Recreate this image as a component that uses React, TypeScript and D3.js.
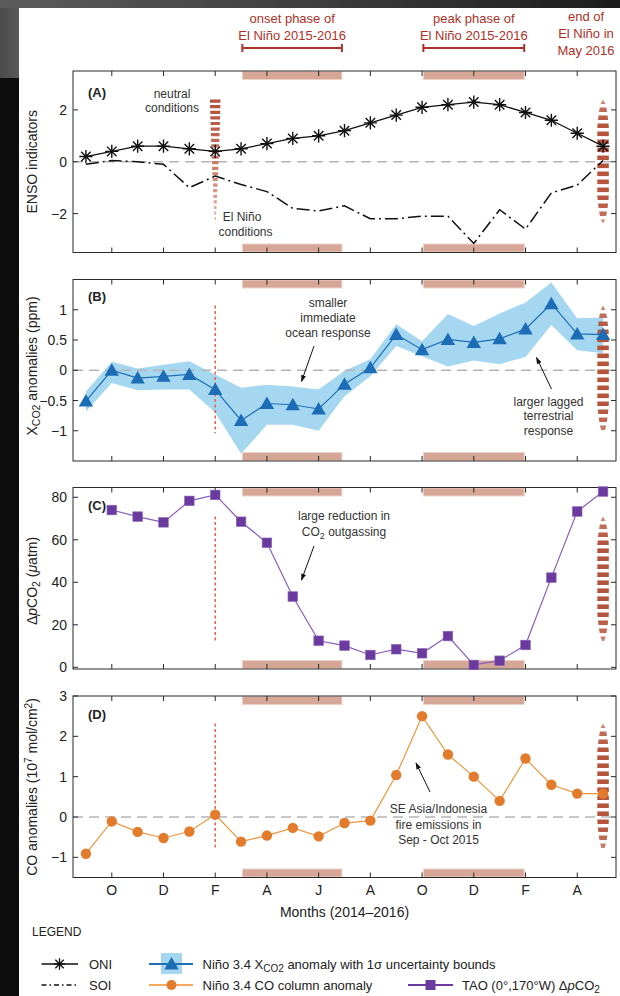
import React from 'react';
import * as d3 from 'd3';

// ---------- data ----------
const monthIdx = d3.range(21); // Sep 2014 .. May 2016
const tickIdx = [1, 3, 5, 7, 9, 11, 13, 15, 17, 19];
const tickLabels = ['O', 'D', 'F', 'A', 'J', 'A', 'O', 'D', 'F', 'A'];

const oni = [0.2, 0.4, 0.6, 0.6, 0.5, 0.4, 0.5, 0.7, 0.9, 1.0, 1.2, 1.5, 1.8, 2.1, 2.2, 2.3, 2.2, 1.9, 1.6, 1.1, 0.6];
const soi = [-0.1, 0.05, 0.0, -0.1, -1.0, -0.55, -0.88, -1.15, -1.8, -1.9, -1.7, -2.2, -2.2, -2.1, -2.1, -3.15, -1.85, -2.6, -1.2, -0.9, 0.05];

const xco2 = [-0.51, 0.0, -0.13, -0.1, -0.07, -0.32, -0.83, -0.55, -0.57, -0.64, -0.23, 0.04, 0.59, 0.34, 0.51, 0.46, 0.52, 0.68, 1.1, 0.6, 0.59];
const xco2Upper = [-0.35, 0.14, 0.03, 0.09, 0.15, -0.07, -0.29, -0.24, -0.27, -0.32, -0.01, 0.18, 0.76, 0.48, 0.93, 0.73, 0.94, 1.12, 1.45, 0.86, 0.87];
const xco2Lower = [-0.68, -0.21, -0.33, -0.32, -0.32, -0.7, -1.38, -0.9, -0.9, -1.0, -0.43, -0.1, 0.4, 0.23, 0.06, 0.16, 0.1, 0.22, 0.75, 0.33, 0.28];

const dpco2: (number | null)[] = [null, 74.0, 70.9, 68.2, 78.3, 81.1, 68.5, 58.6, 33.3, 12.5, 10.2, 5.8, 8.5, 6.6, 14.7, 1.1, 3.1, 10.5, 42.2, 73.3, 82.7];

const co = [-0.91, -0.11, -0.37, -0.52, -0.36, 0.06, -0.61, -0.46, -0.27, -0.48, -0.15, -0.09, 1.04, 2.5, 1.55, 1.0, 0.4, 1.45, 0.8, 0.58, 0.58];

const onsetPhase = [6.05, 9.9];
const peakPhase = [13.05, 16.95];
const fMonth = 5;
const endMonth = 20;

const yTicksA = [-2, 0, 2];
const yTicksB = [-1, -0.5, 0, 0.5, 1];
const yTicksC = [0, 20, 40, 60, 80];
const yTicksD = [-1, 0, 1, 2, 3];

// ---------- layout ----------
const W = 620, H = 996;
const L = 73, R = 616;
const PH = 181.5;
const FONT = "'Liberation Sans', Arial, Helvetica, sans-serif";

const BAR_FILL = '#d6a797';
const BAR_STROKE = '#ecd3c9';
const RED = '#ad3128';
const SPINDLE = '#b5533b';

const fmt = (v: number) => (v < 0 ? '\u2212' + Math.abs(v) : String(v));

function starPath(cx: number, cy: number, r: number) {
  const d = r * 0.72;
  return `M${cx - r},${cy}H${cx + r}M${cx},${cy - r}V${cy + r}M${cx - d},${cy - d}L${cx + d},${cy + d}M${cx - d},${cy + d}L${cx + d},${cy - d}`;
}
function triPath(cx: number, cy: number) {
  return `M${cx},${cy - 7}L${cx + 7.2},${cy + 5.5}L${cx - 7.2},${cy + 5.5}Z`;
}

// striped spindle (lens) or tapered stripes
function Stripes({ cx, y0, y1, maxW, period, dash, kind }: any) {
  const len = y1 - y0;
  const prof = (t: number) => {
    t = Math.max(0, Math.min(1, t));
    if (kind === 'lens') return maxW * Math.min(1, 1.25 * Math.sqrt(Math.sin(Math.PI * t)));
    return maxW * (1 - 0.9 * Math.pow(t, 1.3));
  };
  const col = d3.interpolateRgb('#b4533c', '#ebbcae');
  const n = Math.floor(len / period) + 1;
  const polys = [];
  for (let k = 0; k < n; k++) {
    const a = y0 + k * period;
    const b = Math.min(a + dash, y1);
    if (b <= a) continue;
    const ta = (a - y0) / len, tb = (b - y0) / len;
    const wa = prof(ta) / 2, wb = prof(tb) / 2;
    const fill = kind === 'lens' ? SPINDLE : col(Math.pow((ta + tb) / 2, 1.4));
    const op = kind === 'lens' ? 0.6 + 0.4 * Math.min(1, (wa + wb) / maxW) : 1;
    polys.push(
      <path key={k} d={`M${cx - wa},${a}L${cx + wa},${a}L${cx + wb},${b}L${cx - wb},${b}Z`} fill={fill} opacity={op} />
    );
  }
  return <g>{polys}</g>;
}

export default function App() {
  const x = d3.scaleLinear().domain([-0.5, 20.5]).range([L, R]);
  const tops = [71, 279.5, 487.5, 696];
  const domains = [[-3.5, 3.5], [-1.5, 1.5], [-0.8, 84.6], [-1.5, 3]];
  const yTicks = [yTicksA, yTicksB, yTicksC, yTicksD];
  const ys = tops.map((t, i) => d3.scaleLinear().domain(domains[i]).range([t + PH, t]));
  // vertical extent of F line / end spindle in data units per panel
  const markSpan = [[2.4, -2.38], [1.07, -1.04], [71, 12], [2.32, -0.82]];

  const lineGen = (y: any) =>
    d3.line<number | null>().defined((d) => d !== null).x((_, i) => x(i)).y((d) => y(d as number));

  const frame = (i: number) => {
    const t = tops[i], b = t + PH, y = ys[i];
    return (
      <g key={'f' + i}>
        <rect x={L} y={t} width={R - L} height={PH} fill="none" stroke="#2a2a2a" strokeWidth={1} />
        {tickIdx.map((m) => (
          <g key={m}>
            <line x1={x(m)} x2={x(m)} y1={b} y2={b - 5} stroke="#2a2a2a" />
            <line x1={x(m)} x2={x(m)} y1={t} y2={t + 5} stroke="#2a2a2a" />
          </g>
        ))}
        {yTicks[i].map((v) => (
          <g key={v}>
            <line x1={L} x2={L + 5} y1={y(v)} y2={y(v)} stroke="#2a2a2a" />
            <line x1={R} x2={R - 5} y1={y(v)} y2={y(v)} stroke="#2a2a2a" />
            <text x={67} y={y(v) + 5} textAnchor="end" fontSize={14} fill="#222">{fmt(v)}</text>
          </g>
        ))}
      </g>
    );
  };

  const bars = (i: number) => {
    const t = tops[i], b = t + PH;
    return (
      <g key={'b' + i}>
        {[onsetPhase, peakPhase].map((p, k) => (
          <g key={k}>
            <rect x={x(p[0])} y={t + 0.5} width={x(p[1]) - x(p[0])} height={8} fill={BAR_FILL} stroke={BAR_STROKE} strokeWidth={1} />
            <rect x={x(p[0])} y={b - 8.5} width={x(p[1]) - x(p[0])} height={8} fill={BAR_FILL} stroke={BAR_STROKE} strokeWidth={1} />
          </g>
        ))}
      </g>
    );
  };

  const zeroLine = (i: number) => (
    <line x1={L} x2={R} y1={ys[i](0)} y2={ys[i](0)} stroke="#b5b5b5" strokeWidth={1.6} strokeDasharray="10,6" />
  );

  const fLine = (i: number) => (
    <line x1={x(fMonth)} x2={x(fMonth)} y1={ys[i](markSpan[i][0])} y2={ys[i](markSpan[i][1])}
      stroke="#e06a5a" strokeWidth={1.6} strokeDasharray="3,2.5" />
  );

  const endSpindle = (i: number) => (
    <Stripes cx={x(endMonth)} y0={ys[i](markSpan[i][0])} y1={ys[i](markSpan[i][1])} maxW={11.5} period={8} dash={4.6} kind="lens" />
  );

  const yA = ys[0], yB = ys[1], yC = ys[2], yD = ys[3];

  const bandArea = d3.area<number>().x((_, i) => x(i)).y0((_, i) => yB(xco2Lower[i])).y1((_, i) => yB(xco2Upper[i]));

  const arrow = (x1: number, y1: number, x2: number, y2: number) => (
    <line x1={x1} y1={y1} x2={x2} y2={y2} stroke="#111" strokeWidth={1} markerEnd="url(#arr)" />
  );

  return (
    <svg width={W} height={H} style={{ position: 'absolute', left: 0, top: 0, fontFamily: FONT }}>
      <defs>
        <marker id="arr" viewBox="0 0 10 10" refX={9} refY={5} markerWidth={7} markerHeight={7} markerUnits="userSpaceOnUse" orient="auto">
          <path d="M0,1.5L10,5L0,8.5Z" fill="#111" />
        </marker>
        <linearGradient id="topg" x1="0" x2="1" y1="0" y2="0">
          <stop offset="0" stopColor="#5c5c5c" />
          <stop offset="0.5" stopColor="#3e3e3e" />
          <stop offset="1" stopColor="#1c1c1c" />
        </linearGradient>
        <linearGradient id="leftg" x1="0" x2="1" y1="0" y2="0">
          <stop offset="0" stopColor="#4a4a4a" />
          <stop offset="1" stopColor="#5a5a5a" />
        </linearGradient>
      </defs>
      <rect x={0} y={0} width={W} height={H} fill="#fff" />
      <rect x={0} y={0} width={19} height={H} fill="#0c0c0c" />
      <rect x={0} y={0} width={19} height={78} fill="url(#leftg)" />
      <rect x={0} y={0} width={W} height={8} fill="url(#topg)" />

      {/* header */}
      <g fill={RED} fontSize={13} textAnchor="middle">
        <text x={(x(onsetPhase[0]) + x(onsetPhase[1])) / 2} y={23}>onset phase of</text>
        <text x={(x(onsetPhase[0]) + x(onsetPhase[1])) / 2} y={40}>El Niño 2015-2016</text>
        <text x={(x(peakPhase[0]) + x(peakPhase[1])) / 2} y={23}>peak phase of</text>
        <text x={(x(peakPhase[0]) + x(peakPhase[1])) / 2} y={40}>El Niño 2015-2016</text>
        <text x={586} y={21}>end of</text>
        <text x={586} y={38}>El Niño in</text>
        <text x={586} y={55}>May 2016</text>
      </g>
      {[onsetPhase, peakPhase].map((p, k) => (
        <g key={k} stroke={RED} strokeWidth={2}>
          <line x1={x(p[0])} x2={x(p[1])} y1={48} y2={48} />
          <line x1={x(p[0])} x2={x(p[0])} y1={44} y2={52} />
          <line x1={x(p[1])} x2={x(p[1])} y1={44} y2={52} />
        </g>
      ))}

      {/* ---------- Panel A ---------- */}
      {bars(0)}
      {zeroLine(0)}
      <Stripes cx={x(fMonth)} y0={yA(markSpan[0][0])} y1={yA(markSpan[0][1])} maxW={10.5} period={5.6} dash={3.2} kind="taper" />
      {endSpindle(0)}
      {frame(0)}
      <path d={lineGen(yA)(soi) || ''} fill="none" stroke="#111" strokeWidth={1.5} strokeDasharray="13,4,2,4" />
      <path d={lineGen(yA)(oni) || ''} fill="none" stroke="#111" strokeWidth={1.3} />
      {oni.map((v, i) => (
        <path key={i} d={starPath(x(i), yA(v), 6.6)} stroke="#111" strokeWidth={1.4} fill="none" />
      ))}
      <text x={88} y={97} fontSize={13} fontWeight="bold" fill="#222">(A)</text>
      <g fontSize={12} fill="#333" textAnchor="middle">
        <text x={172} y={97.5}>neutral</text>
        <text x={172} y={111.5}>conditions</text>
        <text x={242} y={220.5}>El Niño</text>
        <text x={245.5} y={235.5}>conditions</text>
      </g>

      {/* ---------- Panel B ---------- */}
      {bars(1)}
      <path d={bandArea(monthIdx) || ''} fill="#a5d8f0" />
      {zeroLine(1)}
      {fLine(1)}
      {endSpindle(1)}
      {frame(1)}
      <path d={lineGen(yB)(xco2) || ''} fill="none" stroke="#1f6fb6" strokeWidth={1.2} />
      {xco2.map((v, i) => (
        <path key={i} d={triPath(x(i), yB(v))} fill="#1c6db5" />
      ))}
      <text x={88} y={300.5} fontSize={13} fontWeight="bold" fill="#222">(B)</text>
      <g fontSize={12} fill="#333" textAnchor="middle">
        <text x={328} y={306.5}>smaller</text>
        <text x={328} y={322}>immediate</text>
        <text x={328} y={337}>ocean response</text>
        <text x={548.5} y={405.5}>larger lagged</text>
        <text x={548.5} y={420}>terrestrial</text>
        <text x={548.5} y={434.5}>response</text>
      </g>
      {arrow(314, 346, 301.5, 381.5)}
      {arrow(551.5, 389, 536.5, 357.5)}

      {/* ---------- Panel C ---------- */}
      {bars(2)}
      {fLine(2)}
      {endSpindle(2)}
      {frame(2)}
      <path d={lineGen(yC)(dpco2) || ''} fill="none" stroke="#8a5cbb" strokeWidth={1.2} />
      {dpco2.map((v, i) =>
        v === null ? null : (
          <rect key={i} x={x(i) - 4.8} y={yC(v) - 4.8} width={9.6} height={9.6} fill="#6b3a9f" stroke="#8b68b8" strokeWidth={0.6} />
        )
      )}
      <text x={88} y={509.5} fontSize={13} fontWeight="bold" fill="#222">(C)</text>
      <g fontSize={12} fill="#333" textAnchor="middle">
        <text x={344} y={520}>large reduction in</text>
        <text x={344} y={536}>
          CO<tspan fontSize={9} dy={3}>2</tspan><tspan dy={-3}> outgassing</tspan>
        </text>
      </g>
      {arrow(314, 546, 301.5, 580)}

      {/* ---------- Panel D ---------- */}
      {bars(3)}
      {zeroLine(3)}
      {fLine(3)}
      {endSpindle(3)}
      {frame(3)}
      <path d={lineGen(yD)(co) || ''} fill="none" stroke="#f0953c" strokeWidth={1.2} />
      {co.map((v, i) => (
        <circle key={i} cx={x(i)} cy={yD(v)} r={5.2} fill="#e27b2c" />
      ))}
      <text x={88} y={719} fontSize={13} fontWeight="bold" fill="#222">(D)</text>
      <g fontSize={12} fill="#333" textAnchor="middle">
        <text x={438.5} y={813}>SE Asia/Indonesia</text>
        <text x={438.5} y={829}>fire emissions in</text>
        <text x={438.5} y={843.5}>Sep - Oct 2015</text>
      </g>
      {arrow(430, 792, 416, 763)}

      {/* month labels */}
      {tickIdx.map((m, k) => (
        <text key={m} x={x(m)} y={895} textAnchor="middle" fontSize={14} fill="#222">{tickLabels[k]}</text>
      ))}
      <text x={(L + R) / 2} y={916.5} textAnchor="middle" fontSize={14} fill="#222">Months (2014–2016)</text>

      {/* y axis titles */}
      <g fontSize={14} fill="#222" textAnchor="middle">
        <text transform={`translate(36.5,${(tops[0] + PH / 2).toFixed(1)}) rotate(-90)`}>ENSO indicators</text>
        <text transform="translate(36.5,366) rotate(-90)">
          X<tspan fontSize={10.5} dy={3}>CO2</tspan><tspan dy={-3}> anomalies (ppm)</tspan>
        </text>
        <text transform="translate(36.5,581) rotate(-90)">
          Δ<tspan fontStyle="italic">p</tspan>CO<tspan fontSize={10.5} dy={3}>2</tspan><tspan dy={-3}> (</tspan><tspan fontStyle="italic">μ</tspan>atm)
        </text>
        <text transform="translate(36.5,787) rotate(-90)">
          CO anomalies (10<tspan fontSize={10} dy={-5}>7</tspan><tspan dy={5}> mol/cm</tspan><tspan fontSize={10} dy={-5}>2</tspan><tspan dy={5}>)</tspan>
        </text>
      </g>

      {/* legend */}
      <text x={32} y={936} fontSize={12} fill="#222">LEGEND</text>
      <line x1={41.5} x2={78} y1={964} y2={964} stroke="#111" strokeWidth={1.3} />
      <path d={starPath(59.5, 964, 5.8)} stroke="#111" strokeWidth={1.3} />
      <text x={89} y={968.5} fontSize={13} fill="#222">ONI</text>
      <line x1={41.5} x2={78} y1={985} y2={985} stroke="#111" strokeWidth={1.3} strokeDasharray="5,3,1.5,3" />
      <text x={89} y={989.5} fontSize={13} fill="#222">SOI</text>

      <rect x={161} y={953} width={21} height={21} fill="#a5d8f0" />
      <line x1={149} x2={193} y1={964} y2={964} stroke="#1f6fb6" strokeWidth={2} />
      <path d={triPath(171.5, 964)} fill="#1c6db5" />
      <text x={202.5} y={968.5} fontSize={13} fill="#222">
        Niño 3.4 X<tspan fontSize={10} dy={3}>CO2</tspan><tspan dy={-3}> anomaly with 1σ uncertainty bounds</tspan>
      </text>

      <line x1={149} x2={193} y1={985} y2={985} stroke="#f5a860" strokeWidth={2} />
      <circle cx={171.5} cy={985} r={5} fill="#e27b2c" />
      <text x={202.5} y={989.5} fontSize={13} fill="#222">Niño 3.4 CO column anomaly</text>

      <line x1={408} x2={453} y1={985} y2={985} stroke="#6b3a9f" strokeWidth={2} />
      <rect x={425.5} y={980} width={10} height={10} fill="#6b3a9f" />
      <text x={462} y={989.5} fontSize={13} fill="#222">
        TAO (0°,170°W) Δ<tspan fontStyle="italic">p</tspan>CO<tspan fontSize={10} dy={3}>2</tspan>
      </text>
    </svg>
  );
}
